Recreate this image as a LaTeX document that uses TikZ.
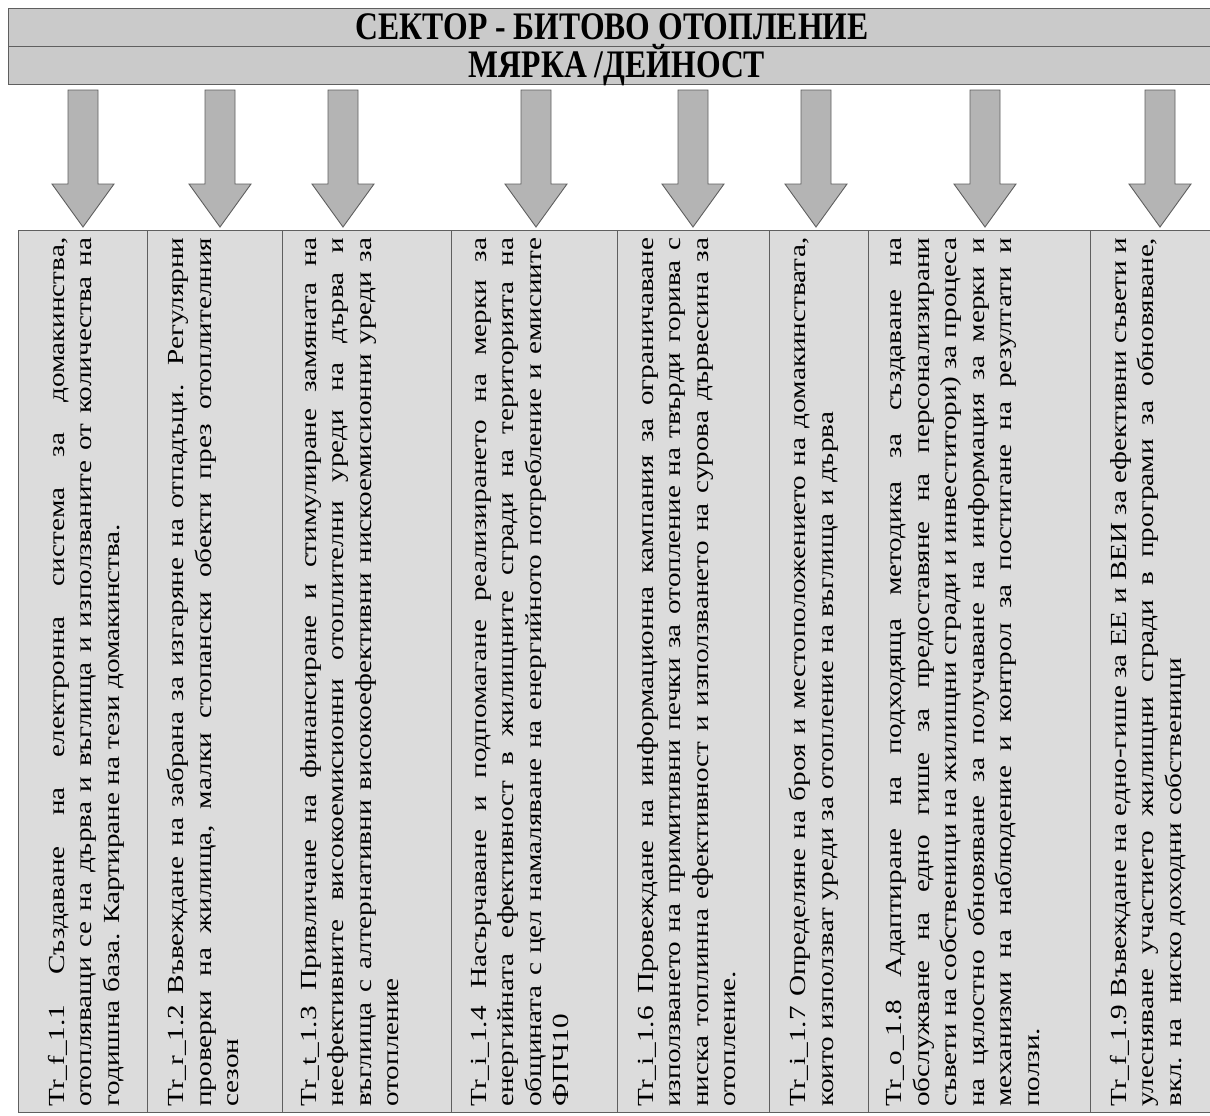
\documentclass[tikz,border=0pt]{standalone}
\usepackage{fontspec}
\usepackage{graphicx}
\setmainfont{Liberation Serif}
\newfontfamily\colfont[FakeStretch=1.27]{Liberation Serif}
\usetikzlibrary{calc}
\definecolor{hdrfill}{RGB}{202,202,202}
\definecolor{cellfill}{RGB}{220,220,220}
\definecolor{arrfill}{RGB}{180,180,180}
\definecolor{edgec}{RGB}{95,95,95}
\newlength\LL \setlength\LL{869pt}
\newcommand\jl[1]{\makebox[\LL][s]{#1}}
\tikzset{
 hdrbar/.style={draw=edgec, fill=hdrfill, line width=1.2pt, minimum width=1210pt, minimum height=38pt, anchor=north west, inner sep=0},
 hdrtext/.style={font=\bfseries\fontsize{31.7}{36}\selectfont, inner sep=0},
 cell/.style={draw=edgec, fill=cellfill, line width=0.9pt, minimum height=882pt, anchor=north west, inner sep=0},
 coltext/.style={rotate=90, anchor=north west, inner sep=0, align=left, font=\colfont\fontsize{23}{27.5}\selectfont},
 blockarr/.pic={\draw[draw=edgec, fill=arrfill, line width=0.9pt] (-15,0) -- (15,0) -- (15,94) -- (31,94) -- (0,137) -- (-31,94) -- (-15,94) -- cycle;}
}
\begin{document}
\begin{tikzpicture}[x=1pt,y=-1pt]
\useasboundingbox (0,0) rectangle (1210,1116);
\fill[white] (0,0) rectangle (1210,1116);
% header
\node[hdrbar] (h1) at (8,8) {};
\node[hdrbar] (h2) at (8,46) {};
\node[hdrtext] (h1t) at (612,27) {\scalebox{1}[1.23]{СЕКТОР - БИТОВО ОТОПЛЕНИЕ}};
\node[hdrtext] (h2t) at (617,65) {\scalebox{1}[1.23]{МЯРКА /ДЕЙНОСТ}};
% arrows
\foreach \i/\x in {1/83,2/220,3/343,4/536,5/693,6/816,7/985,8/1160}{
  \coordinate (a\i) at (\x,90);
  \pic at (a\i) {blockarr};
}
% columns
\node[cell, minimum width=129pt] (c1) at (18,230) {};
\node[cell, minimum width=135pt] (c2) at (147,230) {};
\node[cell, minimum width=169pt] (c3) at (282,230) {};
\node[cell, minimum width=166pt] (c4) at (451,230) {};
\node[cell, minimum width=152pt] (c5) at (617,230) {};
\node[cell, minimum width=99pt] (c6) at (769,230) {};
\node[cell, minimum width=222pt] (c7) at (868,230) {};
\node[cell, minimum width=130pt] (c8) at (1090,230) {};
% texts
\node[coltext] (t1) at ($(c1.south west)+(30,-6)$) {\jl{Tr\_f\_1.1 Създаване на електронна система за домакинства,}\\
\jl{отопляващи се на дърва и въглища и използваните от количества на}\\
годишна база. Картиране на тези домакинства.};
\node[coltext] (t2) at ($(c2.south west)+(20,-6)$) {\jl{Tr\_r\_1.2 Въвеждане на забрана за изгаряне на отпадъци. Регулярни}\\
\jl{проверки на жилища, малки стопански обекти през отоплителния}\\
сезон};
\node[coltext] (t3) at ($(c3.south west)+(18,-6)$) {\jl{Tr\_t\_1.3 Привличане на финансиране и стимулиране замяната на}\\
\jl{неефективните високоемисионни отоплителни уреди на дърва и}\\
\jl{въглища с алтернативни високоефективни нискоемисионни уреди за}\\
отопление};
\node[coltext] (t4) at ($(c4.south west)+(20,-6)$) {\jl{Tr\_i\_1.4 Насърчаване и подпомагане реализирането на мерки за}\\
\jl{енергийната ефективност в жилищните сгради на територията на}\\
\jl{общината с цел намаляване на енергийното потребление и емисиите}\\
ФПЧ10};
\node[coltext] (t5) at ($(c5.south west)+(20,-6)$) {\jl{Tr\_i\_1.6 Провеждане на информационна кампания за ограничаване}\\
\jl{използването на примитивни печки за отопление на твърди горива с}\\
\jl{ниска топлинна ефективност и използването на сурова дървесина за}\\
отопление.};
\node[coltext] (t6) at ($(c6.south west)+(20,-6)$) {\jl{Tr\_i\_1.7 Определяне на броя и местоположението на домакинствата,}\\
които използват уреди за отопление на въглища и дърва};
\node[coltext] (t7) at ($(c7.south west)+(18,-6)$) {\jl{Tr\_o\_1.8 Адаптиране на подходяща методика за създаване на}\\
\jl{обслужване на едно гише за предоставяне на персонализирани}\\
\jl{съвети на собственици на жилищни сгради и инвеститори) за процеса}\\
\jl{на цялостно обновяване за получаване на информация за мерки и}\\
\jl{механизми на наблюдение и контрол за постигане на резултати и}\\
ползи.};
\node[coltext] (t8) at ($(c8.south west)+(20,-6)$) {\jl{Tr\_f\_1.9 Въвеждане на едно-гише за ЕЕ и ВЕИ за ефективни съвети и}\\
\jl{улесняване участието жилищни сгради в програми за обновяване,}\\
вкл. на~ ниско доходни собственици};
\end{tikzpicture}
\end{document}
